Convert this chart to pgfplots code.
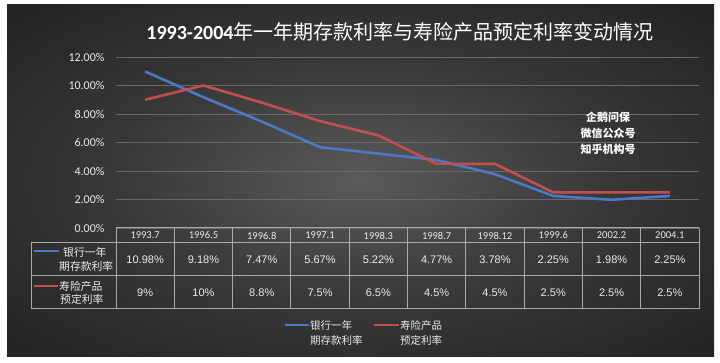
\documentclass[border=0pt]{standalone}
\usepackage{fontspec}
\usepackage{pgfplots}
\pgfplotsset{compat=1.18}
\setmainfont{Carlito}
\newfontfamily\cjk{Noto Sans CJK SC}
\newfontfamily\arial{Liberation Sans}
\definecolor{bluel}{RGB}{74,122,198}
\definecolor{redl}{RGB}{192,80,77}
\definecolor{gridc}{RGB}{105,105,105}
\definecolor{tabc}{RGB}{170,170,170}
\definecolor{txt}{RGB}{235,235,235}
\definecolor{bgA}{RGB}{90,90,90}
\definecolor{bgB}{RGB}{55,55,55}
\definecolor{bgC}{RGB}{36,36,36}
\pgfdeclareradialshading{bgshade}{\pgfpoint{0bp}{0bp}}{color(0bp)=(bgA); color(18bp)=(bgB); color(34bp)=(bgC); color(50bp)=(bgC)}
\begin{document}
\begin{tikzpicture}
\useasboundingbox (0pt,0pt) rectangle (720pt,363pt);
\fill[white] (0pt,0pt) rectangle (720pt,363pt);
\shade[shading=bgshade] (7pt,6pt) rectangle (714pt,358pt);
\begin{axis}[
  at={(116pt,135pt)}, anchor=south west,
  scale only axis, width=583pt, height=171pt,
  xmin=-0.5, xmax=9.5, ymin=0, ymax=12,
  axis line style={draw=none},
  major tick length=0pt,
  ytick={0,2,4,6,8,10,12},
  ymajorgrids, grid style={gridc, line width=0.8pt},
  yticklabel={\pgfmathprintnumber[fixed,fixed zerofill,precision=2]{\tick}\%},
  /pgf/number format/assume math mode=true,
  yticklabel style={font=\fontsize{12}{14}\selectfont, text=txt, anchor=east, xshift=-8pt},
  xtick={0,1,2,3,4,5,6,7,8,9},
  xticklabels={1993.7,1996.5,1996.8,1997.1,1998.3,1998.7,1998.12,1999.6,2002.2,2004.1},
  xticklabel style={font=\fontsize{10.5}{12}\selectfont, text=txt, anchor=center, yshift=-7.5pt},
  clip=false,
]
\addplot[bluel, line width=2.6pt, line join=round] coordinates {(0,10.98) (1,9.18) (2,7.47) (3,5.67) (4,5.22) (5,4.77) (6,3.78) (7,2.25) (8,1.98) (9,2.25)};
\addplot[redl, line width=2.6pt, line join=round] coordinates {(0,9) (1,10) (2,8.8) (3,7.5) (4,6.5) (5,4.5) (6,4.5) (7,2.5) (8,2.5) (9,2.5)};
\end{axis}
% title
\node[text=white, font=\fontsize{20}{24}\selectfont] at (400pt,331pt) {\textbf{1993-2004}{\cjk 年一年期存款利率与寿险产品预定利率变动情况}};
% watermark
\node[text=white, font=\cjk\bfseries\fontsize{11}{16}\selectfont, align=center] at (608pt,230pt) {企鹅问保\\微信公众号\\知乎机构号};
% table grid
\begin{scope}[draw=tabc, line width=1pt]
\draw (116pt,135pt) -- (699pt,135pt);
\draw (31pt,120pt) -- (699pt,120pt);
\draw (31pt,87pt) -- (699pt,87pt);
\draw (31pt,54pt) -- (699pt,54pt);
\draw (31pt,120pt) -- (31pt,54pt);
\foreach \k in {0,...,10} { \draw ({(116+58.3*\k)*1pt},135pt) -- ({(116+58.3*\k)*1pt},54pt); }
\end{scope}
% table values
\foreach \v [count=\i from 0] in {10.98\%,9.18\%,7.47\%,5.67\%,5.22\%,4.77\%,3.78\%,2.25\%,1.98\%,2.25\%}
  \node[text=txt, font=\arial\fontsize{11}{13}\selectfont] at ({(145.15+58.3*\i)*1pt},103pt) {\v};
\foreach \v [count=\i from 0] in {9\%,10\%,8.8\%,7.5\%,6.5\%,4.5\%,4.5\%,2.5\%,2.5\%,2.5\%}
  \node[text=txt, font=\arial\fontsize{11}{13}\selectfont] at ({(145.15+58.3*\i)*1pt},70pt) {\v};
% table legend keys
\draw[bluel, line width=2.4pt] (34pt,112pt) -- (59pt,112pt);
\node[text=txt, font=\cjk\fontsize{10.8}{14}\selectfont, anchor=west, inner sep=0pt] at (63pt,111pt) {银行一年};
\node[text=txt, font=\cjk\fontsize{10.8}{14}\selectfont, anchor=west, inner sep=0pt] at (59pt,97pt) {期存款利率};
\draw[redl, line width=2.4pt] (34pt,77pt) -- (58pt,77pt);
\node[text=txt, font=\cjk\fontsize{10.8}{14}\selectfont, anchor=west, inner sep=0pt] at (59pt,77pt) {寿险产品};
\node[text=txt, font=\cjk\fontsize{10.8}{14}\selectfont, anchor=west, inner sep=0pt] at (60pt,64pt) {预定利率};
% bottom legend
\draw[bluel, line width=2.4pt] (285pt,38pt) -- (309pt,38pt);
\node[text=txt, font=\cjk\fontsize{10.5}{14}\selectfont, anchor=west, inner sep=0pt] at (310pt,37pt) {银行一年};
\node[text=txt, font=\cjk\fontsize{10.5}{14}\selectfont, anchor=west, inner sep=0pt] at (310pt,23pt) {期存款利率};
\draw[redl, line width=2.4pt] (374pt,38pt) -- (399pt,38pt);
\node[text=txt, font=\cjk\fontsize{10.5}{14}\selectfont, anchor=west, inner sep=0pt] at (400pt,37pt) {寿险产品};
\node[text=txt, font=\cjk\fontsize{10.5}{14}\selectfont, anchor=west, inner sep=0pt] at (400pt,23pt) {预定利率};
\end{tikzpicture}
\end{document}
